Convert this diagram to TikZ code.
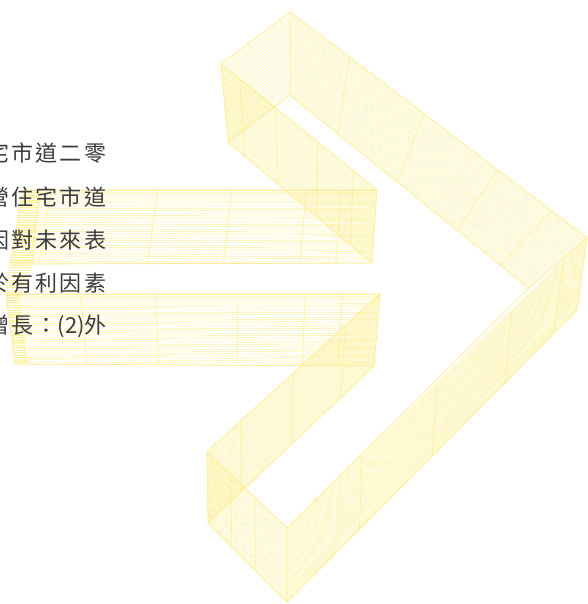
\documentclass[tikz,border=0pt]{standalone}
\usepackage{fontspec}
\usepackage{tikz}
\usetikzlibrary{calc}
\newfontfamily\cjk[LetterSpace=10]{Noto Sans CJK TC}
\newfontfamily\cjkplain{Noto Sans CJK TC}
\definecolor{wirecol}{RGB}{255,238,140}
\definecolor{edgecol}{RGB}{255,232,120}
\definecolor{txtgray}{RGB}{60,60,60}

% lines of one face: from edge #2-#3 to edge #4-#5
\newcommand{\meshface}[5][30]{%
  \foreach \i [evaluate=\i as \fr using \i/#1] in {0,...,#1}
    \draw[wireline] ($(#2)!\fr!(#3)$) -- ($(#4)!\fr!(#5)$);}
\newcommand{\crossface}[5]{%
  \foreach \s in {#1}
    \draw[wirecross] ($(#2)!\s!(#3)$) -- ($(#4)!\s!(#5)$);}

\begin{document}
\begin{tikzpicture}[x=0.75pt,y=-0.75pt,
    wireline/.style={draw=wirecol, line width=0.35pt, opacity=0.85},
    wirecross/.style={draw=wirecol, line width=0.5pt, opacity=0.8},
    wireedge/.style={draw=edgecol, line width=0.6pt, line join=round, opacity=0.7},
    txt/.style={anchor=base west, inner sep=0pt, text=txtgray,
      font=\cjk\fontsize{16.5pt}{20pt}\selectfont}]
  \useasboundingbox (0,0) rectangle (587,604);

  % corners of the arrow
  \coordinate (A) at (290,12);
  \coordinate (B) at (290,95);
  \coordinate (E) at (221,64);
  \coordinate (F) at (228,142);
  \coordinate (T) at (587,238);
  \coordinate (I) at (529,288);
  \coordinate (R) at (577,310);
  \coordinate (G) at (377,190);
  \coordinate (H) at (372,263);
  \coordinate (C) at (287,528);
  \coordinate (D) at (287,602);
  \coordinate (E2) at (207,452);
  \coordinate (F2) at (208,523);
  \coordinate (J) at (380,294);
  \coordinate (K) at (374,366);
  % left ends of the two bars
  \coordinate (P1) at (23,190);
  \coordinate (P4) at (10,264);
  \coordinate (Q1) at (6,294);
  \coordinate (Q4) at (15,364);

  % bars
  \meshface[32]{P1}{P4}{G}{H}
  \meshface[31]{Q1}{Q4}{J}{K}
  \crossface{0.08,0.38,0.59,0.8,0.9}{P1}{G}{P4}{H}
  \crossface{0.2,0.4,0.62,0.8,0.9}{Q1}{J}{Q4}{K}

  % arms
  \meshface[36]{A}{B}{T}{I}
  \meshface[34]{E}{F}{G}{H}
  \meshface[36]{C}{D}{T}{R}
  \meshface[34]{E2}{F2}{J}{K}
  \meshface[28]{E2}{F2}{C}{D}
  \crossface{0.2,0.45,0.7,0.88}{A}{T}{B}{I}
  \crossface{0.12,0.35,0.62,0.85}{E}{G}{F}{H}
  \crossface{0.25,0.5,0.75,0.92}{C}{T}{D}{R}
  \crossface{0.2,0.5,0.8}{E2}{J}{F2}{K}
  \crossface{0.3,0.6}{E2}{C}{F2}{D}

  % back cap
  \begin{scope}
    \clip (E)--(A)--(B)--(F)--cycle;
    \foreach \k in {-30,...,24}
      \draw[wireline] ($(E)+(0,\k*3.2)$) -- ++(120,92);
  \end{scope}

  % left end of the bars
  \begin{scope}
    \clip (23,190)--(41,190)--(33,264)--(20,300)--(28,364)--(15,364)--(5,290)--cycle;
    \foreach \y in {190,192.5,...,365}
      \draw[wireline] (0,\y) -- (45,\y);
  \end{scope}
  \draw[wirecross] (41,190) .. controls (34,230) .. (33,264);
  \draw[wirecross] (18,307) .. controls (22,340) .. (28,364);

  % outlines
  \draw[wireedge] (E)--(A)--(B)--(F)--cycle;
  \draw[wireedge] (A)--(T)--(I)--(B);
  \draw[wireedge] (E)--(G)--(H)--(F);
  \draw[wireedge] (C)--(I) (T)--(R)--(D)--(C);
  \draw[wireedge] (E2)--(J)--(K)--(F2)--cycle;
  \draw[wireedge] (E2)--(C) (F2)--(D);
  \draw[wireedge] (P1)--(G) (H)--(P4)--(P1);
  \draw[wireedge] (Q1)--(J) (K)--(Q4)--(Q1);

  % text
  \node[txt] (l1) at (-13,161) {宅市道二零};
  \node[txt] (l2) at (-13,205) {營住宅市道};
  \node[txt] (l3) at (-13,248) {因對未來表};
  \node[txt] (l4) at (-13,291) {於有利因素};
  \node[txt] (l5) at (-13,333) {增長：{\cjkplain(2)}外};
\end{tikzpicture}
\end{document}
